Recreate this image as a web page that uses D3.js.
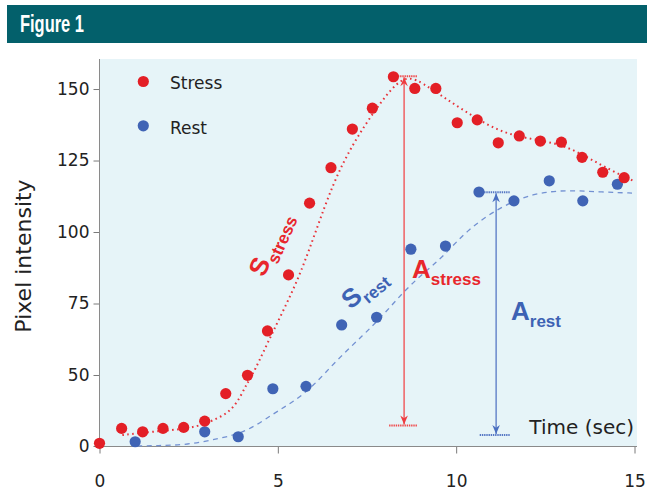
<!DOCTYPE html>
<html>
<head>
<meta charset="utf-8">
<script src="https://cdn.jsdelivr.net/npm/d3@7"></script>
<style>
  html, body { margin: 0; padding: 0; background: #ffffff; }
  svg { display: block; }
</style>
</head>
<body>
<svg id="chart" width="647" height="494"></svg>
<script>
// ---------- data ----------
const stressTime = [0, 0.62, 1.21, 1.78, 2.36, 2.95, 3.54, 4.15, 4.71, 5.30, 5.89, 6.49, 7.09, 7.65, 8.24, 8.84, 9.43, 10.03, 10.59, 11.18, 11.77, 12.36, 12.95, 13.53, 14.11, 14.71];
const stressValue = [1.9, 12.4, 10, 12.4, 13.1, 17.5, 36.9, 49.8, 65.4, 85, 110.1, 122.5, 136, 143.3, 154.3, 150.2, 150.2, 138.2, 139.2, 131.2, 133.6, 131.8, 131.4, 126.1, 120.9, 119];

const restTime = [1.0, 2.95, 3.89, 4.86, 5.79, 6.79, 7.77, 8.73, 9.70, 10.64, 11.62, 12.61, 13.55, 14.52];
const restValue = [3.0, 10.0, 6.5, 40.3, 42.0, 67.5, 70.2, 94.0, 95.1, 114.0, 110.9, 117.9, 110.9, 116.7];

// fitted curves
const stressFitTime = [0.64, 1.43, 2.08, 2.74, 3.2, 3.67, 3.95, 4.13, 4.32, 4.84, 5.54, 6.05, 6.55, 7.11, 7.78, 8.34, 8.7, 9.07, 9.63, 10.19, 10.86, 11.5, 12.26, 12.99, 13.66, 14.3, 15.0];
const stressFitValue = [7.7, 10, 11.2, 13.5, 18.2, 24, 34.5, 44, 50.6, 64.7, 82.2, 99.7, 117.2, 131.1, 143.7, 152.5, 154.3, 152, 147.3, 142.7, 137.5, 134, 132.2, 130.5, 126.3, 121.8, 117.7];

const restFitTime = [1.06, 1.61, 2.45, 3.39, 4.13, 4.88, 5.43, 5.99, 6.65, 7.4, 7.96, 8.52, 9.08, 9.64, 10.3, 11.22, 12.15, 13.1, 14.02, 15.0];
const restFitValue = [0, 0.3, 0.7, 5.4, 10, 22.9, 31, 42, 55.2, 64, 71, 79.1, 85.6, 91.4, 100.7, 108.7, 113.6, 114.7, 114, 113.6];

// amplitude arrows: time, top value, bottom value, cap start, cap end
const ampStress = [8.54, 154.5, 14.5, 8.12, 8.9];
const ampRest = [11.12, 113.9, 7.7, 10.66, 11.5];

const xTicks = [0, 5, 10, 15];
const yTicks = [0, 50, 75, 100, 125, 150];
const seriesNames = ["Stress", "Rest"];

// ---------- setup ----------
const svg = d3.select("#chart");
const RED = "#e31f26", BLUE = "#4064b5";

// header bar
svg.append("rect").attr("x", 7).attr("y", 5).attr("width", 640).attr("height", 38).attr("fill", "#03606b");
svg.append("text").attr("x", 20).attr("y", 32)
  .attr("font-family", "'Liberation Sans Narrow', 'Arial Narrow', 'Liberation Sans', sans-serif")
  .attr("font-stretch", "condensed")
  .attr("font-weight", "bold").attr("font-size", 24).attr("fill", "#ffffff")
  .attr("textLength", 64).attr("lengthAdjust", "spacingAndGlyphs")
  .text("Figure 1");

const x = d3.scaleLinear().domain([0, 15]).range([99.5, 634.5]);
// compressed lower segment (0–50) as in the original
const y = d3.scaleLinear().domain([0, 50, 160.5]).range([446, 375, 59]);

// plot background
svg.append("rect").attr("x", 99).attr("y", 59).attr("width", 538).attr("height", 387).attr("fill", "#e6f4f8");

const FONT = "'DejaVu Sans', sans-serif";

// axes
const yAxis = svg.append("g").attr("transform", "translate(99.5,0)")
  .call(d3.axisLeft(y).tickValues(yTicks).tickSize(6).tickPadding(4).tickFormat(d3.format("d")));
yAxis.select(".domain").remove();
yAxis.selectAll(".tick line").attr("stroke", "#7a7a7a");
yAxis.selectAll(".tick text").attr("font-family", FONT).attr("font-size", 17).attr("fill", "#222");

const xAxis = svg.append("g").attr("transform", "translate(0,446.5)")
  .call(d3.axisBottom(x).tickValues(xTicks).tickSize(7).tickPadding(21));
xAxis.select(".domain").remove();
xAxis.selectAll(".tick line").attr("stroke", "#7a7a7a");
xAxis.selectAll(".tick text").attr("font-family", FONT).attr("font-size", 17).attr("fill", "#222");

svg.append("line").attr("x1", 99.5).attr("x2", 99.5).attr("y1", 59).attr("y2", 446.5).attr("stroke", "#8a8a8a");
svg.append("line").attr("x1", 99).attr("x2", 637).attr("y1", 446.5).attr("y2", 446.5).attr("stroke", "#8a8a8a");

// axis titles
svg.append("text").attr("transform", "translate(31,256) rotate(-90)")
  .attr("text-anchor", "middle").attr("font-family", FONT).attr("font-size", 22).attr("fill", "#222")
  .text("Pixel intensity");
svg.append("text").attr("x", 634).attr("y", 434).attr("text-anchor", "end")
  .attr("font-family", FONT).attr("font-size", 20).attr("fill", "#222")
  .text("Time (sec)");

// fitted curves
const line = d3.line().x(d => x(d[0])).y(d => y(d[1])).curve(d3.curveBasis);
svg.append("path").datum(d3.zip(stressFitTime, stressFitValue))
  .attr("d", line).attr("fill", "none").attr("stroke", "#e8333a").attr("stroke-width", 2)
  .attr("stroke-dasharray", "1.6,3.4").attr("stroke-linecap", "butt");
svg.append("path").datum(d3.zip(restFitTime, restFitValue))
  .attr("d", line).attr("fill", "none").attr("stroke", "#7391d2").attr("stroke-width", 1.3)
  .attr("stroke-dasharray", "5,4.5");

// arrow markers
const defs = svg.append("defs");
function marker(id, color) {
  defs.append("marker").attr("id", id).attr("viewBox", "-10 -5 11 10").attr("refX", 0).attr("refY", 0)
    .attr("markerWidth", 11).attr("markerHeight", 10).attr("markerUnits", "userSpaceOnUse")
    .attr("orient", "auto-start-reverse")
    .append("path").attr("d", "M0,0 L-9,-3.8 L-6.2,0 L-9,3.8 Z").attr("fill", color);
}
marker("arrRed", "#ee3b3f");
marker("arrBlue", "#4a6fc0");

function amplitude(a, color, mid) {
  const [t, top, bot, c0, c1] = a;
  const g = svg.append("g");
  [top, bot].forEach(v => {
    g.append("line").attr("x1", x(c0)).attr("x2", x(c1)).attr("y1", y(v)).attr("y2", y(v))
      .attr("stroke", color).attr("stroke-width", 2).attr("stroke-dasharray", "1.4,0.8");
  });
  g.append("line").attr("x1", x(t)).attr("x2", x(t)).attr("y1", y(top) + 1).attr("y2", y(bot) - 1)
    .attr("stroke", color).attr("stroke-width", 1.3)
    .attr("marker-start", `url(#${mid})`).attr("marker-end", `url(#${mid})`);
}
amplitude(ampStress, "#f04a4c", "arrRed");
amplitude(ampRest, "#5677c4", "arrBlue");

// points
svg.append("g").selectAll("circle").data(d3.zip(restTime, restValue)).join("circle")
  .attr("cx", d => x(d[0])).attr("cy", d => y(d[1])).attr("r", 5.6).attr("fill", BLUE);
svg.append("g").selectAll("circle").data(d3.zip(stressTime, stressValue)).join("circle")
  .attr("cx", d => x(d[0])).attr("cy", d => y(d[1])).attr("r", 5.6).attr("fill", RED);

// legend
const legend = svg.append("g");
[[RED, 81.5, 89], [BLUE, 125.8, 133.5]].forEach((c, i) => {
  legend.append("circle").attr("cx", 143.3).attr("cy", c[1]).attr("r", 5.6).attr("fill", c[0]);
  legend.append("text").attr("x", 170).attr("y", c[2]).attr("font-family", FONT).attr("font-size", 17)
    .attr("fill", "#222").text(seriesNames[i]);
});

// annotation labels
const LBL = "'Liberation Sans', Arial, sans-serif";
function label(tx, ty, rot, big, sub, color) {
  const t = svg.append("text").attr("transform", `translate(${tx},${ty}) rotate(${rot})`)
    .attr("font-family", LBL).attr("font-weight", "bold").attr("fill", color);
  t.append("tspan").attr("font-size", 26).text(big);
  t.append("tspan").attr("font-size", 17).attr("dy", 7).text(sub);
}
label(264, 278, -66, "S", "stress", "#e8262c");
label(350.5, 310, -40, "S", "rest", "#3d62b4");
label(412, 278, 0, "A", "stress", "#e8262c");
label(511, 320, 0, "A", "rest", "#3d62b4");
</script>
</body>
</html>
